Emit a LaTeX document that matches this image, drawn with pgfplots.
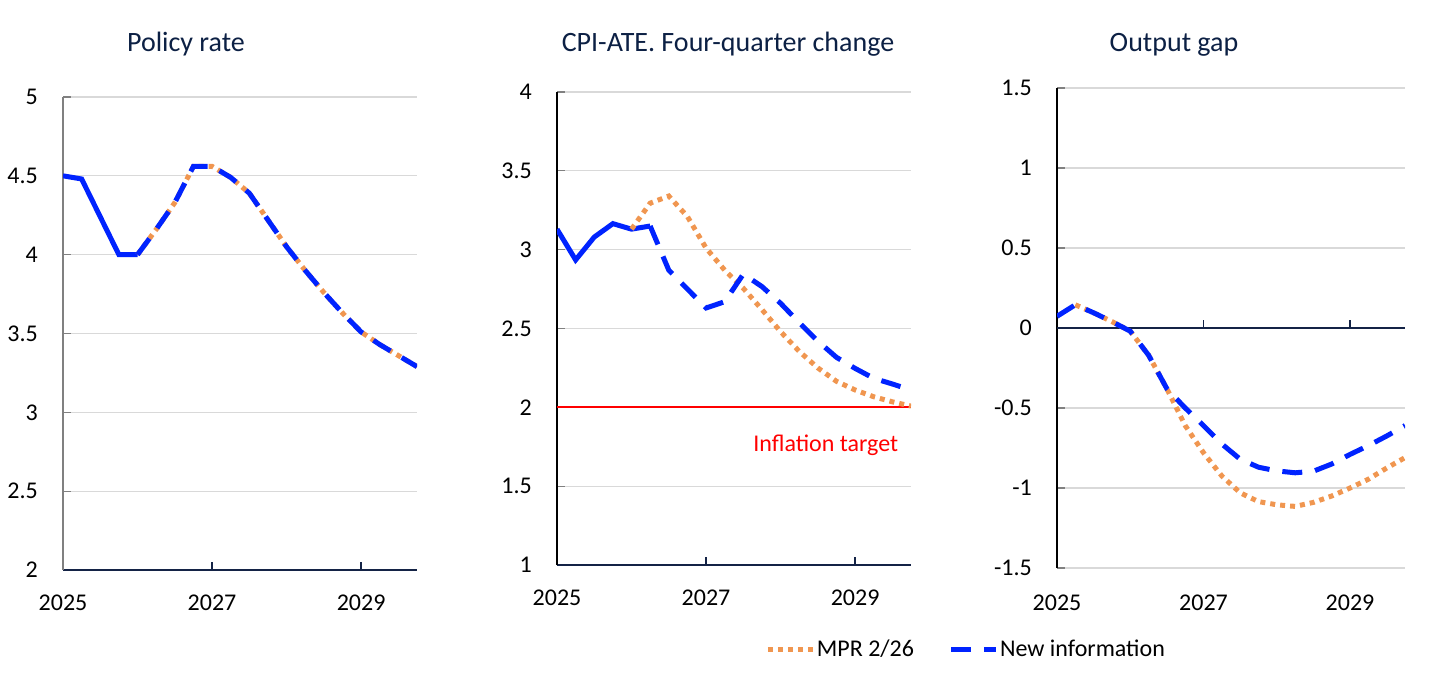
\documentclass[border=0pt]{standalone}
\usepackage{pgfplots}
\pgfplotsset{compat=1.18}
\usepackage{fontspec}
\setmainfont{Carlito}
\definecolor{mblue}{RGB}{0,35,255}
\definecolor{morange}{RGB}{240,150,80}
\definecolor{navy}{RGB}{20,35,70}
\definecolor{gridgray}{RGB}{217,217,217}
\definecolor{titlecol}{RGB}{12,32,68}
\definecolor{tred}{RGB}{255,0,0}
\pgfplotsset{
 panel/.style={
  scale only axis, width=354bp, height=473bp, anchor=south west,
  axis lines=left, axis line style={-},
  xmin=2025, xmax=2029.75,
  xtick={2025,2027,2029}, xticklabels={2025,2027,2029},
  tick align=inside, major tick length=8bp,
  ymajorgrids, grid style={gridgray, line width=1.2bp},
  x axis line style={navy, line width=1.5bp},
  y axis line style={black, line width=1.3bp},
  xtick style={navy, line width=1.3bp},
  ytick style={gray, line width=1.3bp},
  ticklabel style={font=\fontsize{24bp}{28bp}\selectfont},
  xticklabel style={anchor=north, inner sep=0pt, yshift=-25bp},
  yticklabel style={anchor=east, inner sep=0pt, xshift=-25bp},
  legend image code/.code={\draw[##1] (0bp,0bp) -- (45bp,0bp);},
 },
 obs/.style={mblue, line width=5bp},
 mpr/.style={morange, line width=5bp, dash pattern=on 5bp off 5bp},
 newi/.style={mblue, line width=5bp, dash pattern=on 20bp off 13bp},
}
\begin{document}
\begin{tikzpicture}
\path[use as bounding box] (0bp,0bp) rectangle (1445bp,674bp);
\node[anchor=base, font=\fontsize{28bp}{32bp}\selectfont, text=titlecol] at (186bp,622bp) {Policy rate};
\node[anchor=base, font=\fontsize{28bp}{32bp}\selectfont, text=titlecol] at (728bp,622bp) {CPI-ATE. Four-quarter change};
\node[anchor=base, font=\fontsize{28bp}{32bp}\selectfont, text=titlecol] at (1174bp,622bp) {Output gap};

% Panel 1
\begin{axis}[panel, at={(63bp,104bp)}, ymin=2, ymax=5,
  ytick={2,2.5,3,3.5,4,4.5,5}, yticklabels={2,2.5,3,3.5,4,4.5,5},
  y axis line style={gray}]
\addplot[obs] coordinates {(2025,4.50) (2025.25,4.48) (2025.5,4.24) (2025.75,4.00) (2026,4.00)};
\addplot[mpr] coordinates {(2026,4.00) (2026.25,4.16) (2026.5,4.33) (2026.75,4.56) (2027,4.56) (2027.25,4.49) (2027.5,4.39) (2027.75,4.22) (2028,4.05) (2028.25,3.90) (2028.5,3.76) (2028.75,3.63) (2029,3.51) (2029.25,3.43) (2029.5,3.36) (2029.75,3.29)};
\addplot[newi] coordinates {(2026,4.00) (2026.25,4.16) (2026.5,4.33) (2026.75,4.56) (2027,4.56) (2027.25,4.49) (2027.5,4.39) (2027.75,4.22) (2028,4.05) (2028.25,3.90) (2028.5,3.76) (2028.75,3.63) (2029,3.51) (2029.25,3.43) (2029.5,3.36) (2029.75,3.29)};
\end{axis}

% Panel 2
\begin{axis}[panel, at={(557bp,109bp)}, ymin=1, ymax=4,
  ytick={1,1.5,2,2.5,3,3.5,4}, yticklabels={1,1.5,2,2.5,3,3.5,4},
  legend style={at={(1.155,-0.178)}, anchor=center, draw=none, fill=none,
    legend columns=2, font=\fontsize{24bp}{28bp}\selectfont,
    nodes={inner sep=1.5bp},
    /tikz/every even column/.append style={column sep=33bp}}]
\addplot[tred, line width=2.2bp, forget plot, solid, mark=none, opacity=1] coordinates {(2025,2.003) (2029.75,2.003)};
\addplot[obs, forget plot] coordinates {(2025,3.13) (2025.25,2.935) (2025.5,3.08) (2025.75,3.165) (2026,3.13) (2026.25,3.15)};
\addplot[mpr] coordinates {(2026,3.13) (2026.25,3.295) (2026.5,3.34) (2026.75,3.21) (2027,3.01) (2027.25,2.87) (2027.5,2.755) (2027.75,2.62) (2028,2.48) (2028.25,2.355) (2028.5,2.25) (2028.75,2.165) (2029,2.11) (2029.25,2.067) (2029.5,2.035) (2029.75,2.008)};
\addlegendentry{MPR 2/26}
\addplot[newi] coordinates {(2026.25,3.15) (2026.5,2.87) (2026.75,2.75) (2027,2.63) (2027.25,2.67) (2027.5,2.845) (2027.75,2.766) (2028,2.66) (2028.25,2.537) (2028.5,2.42) (2028.75,2.317) (2029,2.247) (2029.25,2.184) (2029.5,2.148) (2029.75,2.11)};
\addlegendentry{New information}
\node[anchor=east, text=tred, inner sep=0pt, font=\fontsize{24bp}{28bp}\selectfont] at (axis cs:2029.58,1.76) {Inflation target};
\end{axis}

% Panel 3
\begin{axis}[panel, at={(1057bp,106bp)}, width=348bp, height=480bp, ymin=-1.5, ymax=1.5,
  ytick={-1.5,-1,-0.5,0,0.5,1,1.5}, yticklabels={-1.5,-1,-0.5,0,0.5,1,1.5},
  x axis line style={draw=none}, xtick style={draw=none},
  xticklabel style={yshift=-2bp}]
\addplot[navy, line width=1.5bp, forget plot] coordinates {(2025,0) (2029.75,0)};
\addplot[navy, line width=1.3bp, forget plot] coordinates {(2027,0) (2027,0.05)};
\addplot[navy, line width=1.3bp, forget plot] coordinates {(2029,0) (2029,0.05)};
\addplot[mpr] coordinates {(2025.25,0.145) (2025.5,0.095) (2025.75,0.04) (2026,-0.02) (2026.25,-0.17) (2026.5,-0.38) (2026.75,-0.61) (2027,-0.78) (2027.25,-0.925) (2027.5,-1.03) (2027.75,-1.085) (2028,-1.105) (2028.25,-1.115) (2028.5,-1.09) (2028.75,-1.05) (2029,-1.0) (2029.25,-0.945) (2029.5,-0.875) (2029.75,-0.81)};
\addplot[newi] coordinates {(2025,0.073) (2025.25,0.145) (2025.5,0.095) (2025.75,0.04) (2026,-0.02) (2026.25,-0.17) (2026.5,-0.38) (2026.75,-0.50) (2027,-0.61) (2027.25,-0.725) (2027.5,-0.82) (2027.75,-0.87) (2028,-0.893) (2028.25,-0.905) (2028.5,-0.895) (2028.75,-0.85) (2029,-0.79) (2029.25,-0.735) (2029.5,-0.675) (2029.75,-0.61)};
\end{axis}
\end{tikzpicture}
\end{document}
